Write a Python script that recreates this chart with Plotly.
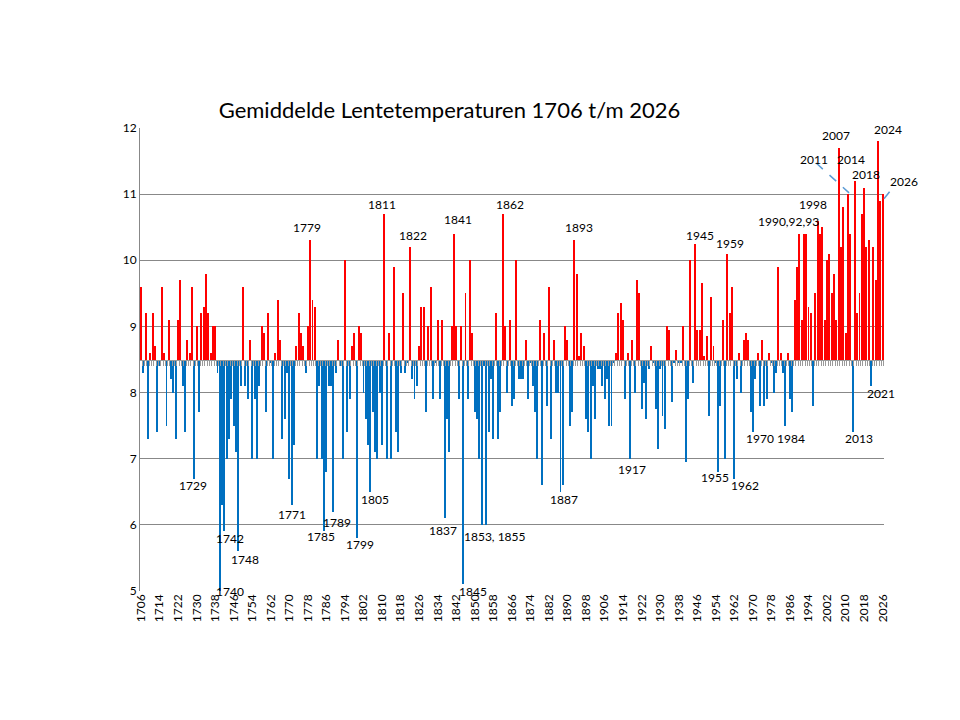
import plotly.graph_objects as go

years = list(range(1706, 2027))
temps = [
    9.6, 8.3, 9.2, 7.3, 8.6, 9.2, 8.7, 7.4, 8.4, 9.6,      # 1706-1715
    8.6, 7.5, 9.1, 8.2, 8.0, 7.3, 9.1, 9.7, 8.1, 7.4,      # 1716-1725
    8.8, 8.6, 9.6, 6.7, 9.0, 7.7, 9.2, 9.3, 9.8, 9.2,      # 1726-1735
    8.6, 9.0, 9.0, 8.3, 5.0, 6.3, 5.9, 7.0, 7.3, 7.9,      # 1736-1745
    7.5, 7.1, 5.6, 8.1, 9.6, 8.1, 7.9, 8.8, 7.0, 7.9,      # 1746-1755
    7.0, 8.1, 9.0, 8.9, 7.7, 9.2, 8.45, 7.0, 8.6, 9.4,     # 1756-1765
    8.8, 7.3, 7.6, 8.3, 6.7, 6.3, 7.2, 8.7, 9.2, 8.9,      # 1766-1775
    8.7, 8.3, 9.0, 10.3, 9.4, 9.3, 7.0, 8.1, 7.0, 5.9,     # 1776-1785
    6.8, 8.1, 8.1, 6.2, 8.3, 8.8, 8.4, 7.0, 10.0, 7.4,     # 1786-1795
    7.9, 8.7, 8.9, 5.8, 9.0, 8.9, 8.0, 7.6, 7.2, 6.5,      # 1796-1805
    7.7, 7.1, 7.0, 8.0, 7.2, 10.7, 7.0, 8.9, 7.0, 9.9,     # 1806-1815
    7.4, 7.1, 8.3, 9.5, 8.3, 8.45, 10.2, 8.2, 7.9, 8.1,    # 1816-1825
    8.7, 9.3, 9.3, 7.7, 9.0, 9.6, 7.9, 8.45, 9.1, 7.9,     # 1826-1835
    9.1, 6.1, 7.6, 7.1, 9.0, 10.4, 9.0, 7.9, 9.0, 5.1,     # 1836-1845
    9.5, 7.9, 10.0, 8.9, 7.7, 7.6, 7.0, 6.0, 8.4, 6.0,     # 1846-1855
    7.4, 8.2, 7.3, 9.2, 7.3, 7.7, 10.7, 9.0, 8.0, 9.1,     # 1856-1865
    7.8, 7.9, 10.0, 8.2, 8.2, 8.2, 8.8, 7.9, 8.45, 8.1,    # 1866-1875
    7.7, 7.0, 9.1, 6.6, 8.9, 7.8, 9.6, 7.3, 8.8, 8.0,      # 1876-1885
    8.0, 6.5, 6.6, 9.0, 8.8, 7.5, 7.7, 10.3, 9.8, 8.55,    # 1886-1895
    8.9, 8.7, 7.6, 7.4, 7.0, 8.1, 7.6, 8.35, 8.35, 8.1,    # 1896-1905
    7.9, 8.2, 7.5, 7.5, 8.45, 8.6, 9.2, 9.35, 9.1, 7.9,    # 1906-1915
    8.6, 7.0, 8.8, 8.0, 9.7, 9.5, 7.75, 8.15, 7.6, 8.35,   # 1916-1925
    8.7, 8.45, 7.75, 7.15, 8.35, 7.65, 7.45, 9.0, 8.95, 7.85,  # 1926-1935
    8.45, 8.65, 8.45, 8.45, 9.0, 6.95, 7.9, 10.0, 8.15, 10.25,  # 1936-1945
    8.95, 8.95, 9.65, 8.55, 8.85, 7.65, 9.45, 8.7, 8.45, 6.8,  # 1946-1955
    7.8, 9.1, 7.0, 10.1, 9.2, 9.6, 6.7, 8.2, 8.6, 8.0,     # 1956-1965
    8.8, 8.9, 8.8, 7.7, 7.4, 8.2, 8.6, 7.8, 8.8, 7.8,      # 1966-1975
    7.9, 8.6, 8.45, 8.0, 8.3, 9.9, 8.6, 8.3, 7.5, 8.6,     # 1976-1985
    7.9, 7.7, 9.4, 9.9, 10.4, 9.1, 10.4, 10.4, 9.3, 9.2,   # 1986-1995
    7.8, 9.5, 10.6, 10.4, 10.5, 9.1, 10.0, 10.1, 9.5, 9.8, # 1996-2005
    9.1, 11.7, 10.2, 10.8, 8.9, 11.0, 10.4, 7.4, 11.2, 9.2,  # 2006-2015
    9.5, 10.7, 11.1, 10.2, 10.3, 8.1, 10.2, 9.7, 11.8, 10.9,  # 2016-2025
    11.0,                                                   # 2026
]
assert len(temps) == len(years)

baseline = 8.5
tick_years = years[::8]

# labels placed in data coordinates (inside the x range)
label_texts = ["1729", "1742", "1748", "1740", "1771", "1779", "1785", "1789",
               "1799", "1805", "1811", "1822", "1837", "1841", "1845",
               "1853, 1855", "1862", "1887", "1893", "1917", "1945", "1955",
               "1959", "1962", "1970", "1984", "1990,92,93", "1998", "2007",
               "2011", "2014", "2018", "2021", "2013"]
label_x = [1728.4, 1744.4, 1750.9, 1744.4, 1771.2, 1777.6, 1783.7, 1790.6,
           1800.5, 1807.0, 1810.0, 1823.4, 1836.3, 1842.8, 1849.2,
           1858.7, 1865.2, 1888.5, 1895.0, 1917.8, 1947.2, 1953.7,
           1960.1, 1966.6, 1973.1, 1986.5, 1985.2, 1996.0, 2005.9,
           1996.4, 2012.4, 2018.8, 2025.3, 2015.8]
label_y = [6.60, 5.80, 5.48, 5.00, 6.15, 10.50, 5.82, 6.03,
           5.71, 6.38, 10.85, 10.38, 5.92, 10.62, 5.00,
           5.82, 10.84, 6.39, 10.49, 6.84, 10.37, 6.72,
           10.26, 6.60, 7.30, 7.31, 10.58, 10.85, 11.88,
           11.53, 11.53, 11.30, 7.99, 7.30]
# labels beyond the right edge of the plot area (paper coordinates)
edge_texts = ["2024", "2026"]
edge_x = [1.0054, 1.0269]
edge_y = [0.9978, 0.8834]

FONT = "Lato, 'Liberation Sans', sans-serif"

colors = ["#ff0000" if t >= baseline else "#0070c0" for t in temps]

fig = go.Figure()
fig.add_trace(go.Bar(
    x=years, y=[t - baseline for t in temps], base=baseline,
    marker=dict(color=colors, line=dict(width=0)), width=0.42,
    hoverinfo="x+text", text=[f"{t}" for t in temps], textposition="none",
    showlegend=False))
fig.add_trace(go.Scatter(x=[years[0]], y=[baseline], xaxis="x2", mode="markers",
                         marker=dict(opacity=0), hoverinfo="skip", showlegend=False))

xr = [1705.57, 2026.57]
fig.update_layout(
    width=960, height=720,
    margin=dict(l=140, r=76, t=128, b=129),
    paper_bgcolor="white", plot_bgcolor="white",
    font=dict(family=FONT, size=12, color="#000000"),
    title=dict(text="Gemiddelde Lentetemperaturen 1706 t/m 2026",
               font=dict(family=FONT, size=22, color="#000000"),
               xref="container", yref="container", x=449.5 / 960, y=1 - 110 / 720,
               xanchor="center", yanchor="middle"),
    bargap=0,
    xaxis=dict(range=xr, tickvals=tick_years, ticktext=[str(y) for y in tick_years],
               tickangle=-90, showgrid=False, zeroline=False, showline=False,
               ticks="", tickfont=dict(size=12)),
    xaxis2=dict(range=xr, overlaying="x", anchor="free", position=0.5, side="bottom",
                tick0=1705.5, dtick=1, ticks="outside", ticklen=5, tickwidth=1,
                tickcolor="#9a9a9a", showline=True, linecolor="#9a9a9a", linewidth=1,
                showticklabels=False, showgrid=False, zeroline=False),
    yaxis=dict(range=[5, 12], dtick=1, showgrid=True, gridcolor="#888888", gridwidth=1,
               showline=True, linecolor="#888888", zeroline=False, ticks="",
               tickfont=dict(size=12)),
)

for txt, lx, ly in zip(label_texts, label_x, label_y):
    fig.add_annotation(x=lx, y=ly, xref="x", yref="y", text=txt, showarrow=False,
                       font=dict(family=FONT, size=12, color="#000000"),
                       xanchor="center", yanchor="middle")
for txt, lx, ly in zip(edge_texts, edge_x, edge_y):
    fig.add_annotation(x=lx, y=ly, xref="paper", yref="paper", text=txt, showarrow=False,
                       font=dict(family=FONT, size=12, color="#000000"),
                       xanchor="center", yanchor="middle")

fig.add_shape(type="line", xref="x", yref="y", x0=1997.3, y0=11.47, x1=2011.5, y1=11.02,
              line=dict(color="#5b9bd5", width=1.5, dash="dash"))
fig.add_shape(type="line", xref="paper", yref="paper", x0=1.0, y0=0.847, x1=1.0148, y1=0.877,
              line=dict(color="#5b9bd5", width=1.5, dash="dash"))

fig.write_html("out.html")
